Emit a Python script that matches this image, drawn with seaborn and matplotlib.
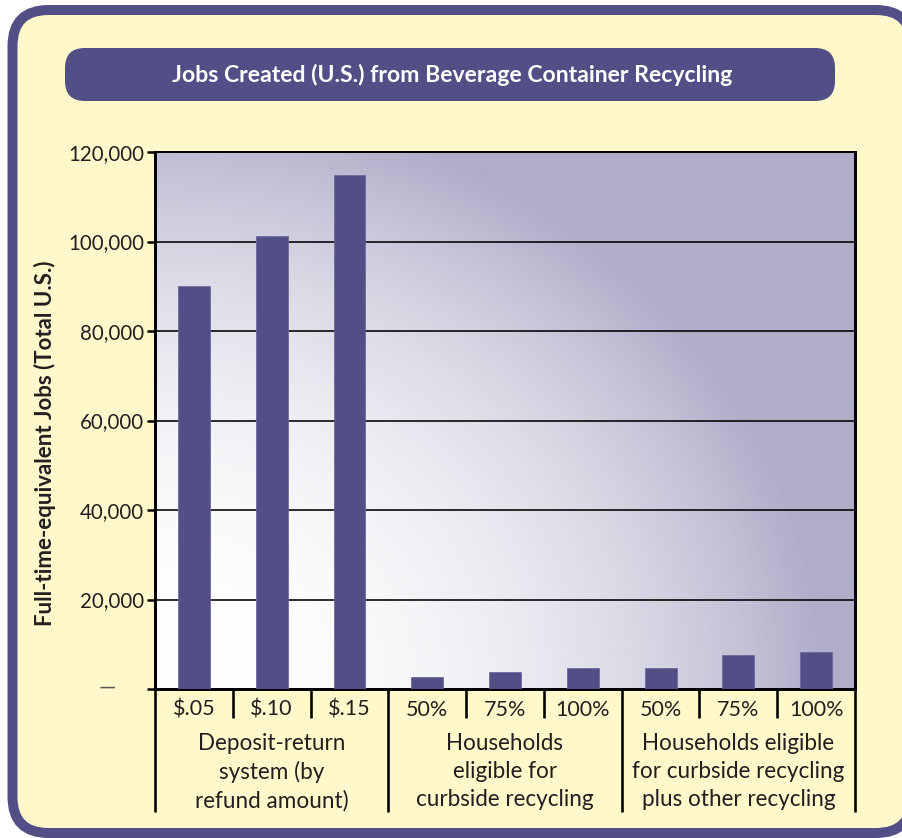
import numpy as np
import pandas as pd
import matplotlib
matplotlib.use("Agg")
import matplotlib.pyplot as plt
import matplotlib.transforms as mtrans
from matplotlib.patches import FancyBboxPatch
import seaborn as sns

# ---- data ----
tick_labels = ["$.05", "$.10", "$.15", "50%", "75%", "100%", "50%", "75%", "100%"]
jobs = [90000, 101300, 114800, 2700, 3900, 4700, 4700, 7500, 8300]
groups = ["Deposit-return\nsystem (by\nrefund amount)",
          "Households\neligible for\ncurbside recycling",
          "Households eligible\nfor curbside recycling\nplus other recycling"]
group_sizes = [3, 3, 3]
y_ticks = [20000, 40000, 60000, 80000, 100000, 120000]
y_tick_labels = ["20,000", "40,000", "60,000", "80,000", "100,000", "120,000"]
title = "Jobs Created (U.S.) from Beverage Container Recycling"
ylabel = "Full-time-equivalent Jobs (Total U.S.)"

PURPLE = "#524F87"
CREAM = "#FEF8CA"
LAV = np.array([175, 173, 200]) / 255.0
TXT = "#231F20"

sns.set_theme(style="white")
plt.rcParams["font.family"] = ["Lato", "DejaVu Sans"]

W, H = 902, 838
DPI = 72
fig = plt.figure(figsize=(W / DPI, H / DPI), dpi=DPI)
fig.patch.set_facecolor("white")

def fx(px):
    return px / W

def fy(py):
    return 1 - py / H

# outer frame
frame = FancyBboxPatch((fx(12.5), fy(833)), fx(912) - fx(12.5), fy(10) - fy(833),
                       boxstyle="round,pad=0,rounding_size=0.04",
                       transform=fig.transFigure, facecolor=CREAM,
                       edgecolor=PURPLE, linewidth=10, zorder=-5,
                       mutation_aspect=W / H)
fig.patches.append(frame)

# title box
tbox = FancyBboxPatch((fx(65), fy(101)), fx(835) - fx(65), fy(48) - fy(101),
                      boxstyle="round,pad=0,rounding_size=0.022",
                      transform=fig.transFigure, facecolor=PURPLE,
                      edgecolor="none", zorder=-4, mutation_aspect=W / H)
fig.patches.append(tbox)
fig.text(fx(452), fy(75), title, color="white", fontsize=23, fontweight="bold",
         ha="center", va="center", zorder=2)

# axes
ax_l, ax_r, ax_t, ax_b = 155, 855, 152, 689
ax = fig.add_axes([fx(ax_l), fy(ax_b), fx(ax_r) - fx(ax_l), fy(ax_t) - fy(ax_b)])
ax.set_zorder(1)

# gradient background (elliptical from bottom-left)
pw, ph = ax_r - ax_l, ax_b - ax_t
gx, gy = np.meshgrid(np.linspace(0, pw, 350), np.linspace(0, ph, 270))
d = np.sqrt((gx / 670.0) ** 2 + (gy / 590.0) ** 2)
t = np.clip(d, 0, 1) ** 2.3
img = (1 - t)[..., None] * np.array([1.0, 1.0, 1.0]) + t[..., None] * LAV
ax.imshow(img, extent=[0, 1, 0, 1], transform=ax.transAxes, origin="lower",
          aspect="auto", zorder=0, interpolation="bilinear")

df = pd.DataFrame({"pos": list(range(len(jobs))), "jobs": jobs})
sns.barplot(data=df, x="pos", y="jobs", color=PURPLE, saturation=1, width=0.41,
            edgecolor="#6C689C", linewidth=0.8, ax=ax, zorder=3)

ax.set_xlim(-0.5, len(jobs) - 0.5)
ax.set_ylim(0, 120000)
ax.set_yticks([0] + y_ticks)
ax.set_yticklabels([""] + y_tick_labels)
ax.set_xticks(range(len(jobs)))
ax.set_xticklabels(tick_labels)
ax.set_xlabel("")
ax.set_ylabel("")
ax.tick_params(axis="y", which="both", left=True, length=8, width=2.5,
               color="black", labelsize=20.5, labelcolor=TXT, pad=3)
ax.tick_params(axis="x", length=0, labelsize=21.5, labelcolor=TXT, pad=11)
for yv in y_ticks:
    ax.axhline(yv, color="black", lw=1.6, zorder=1)
for s in ["left", "right", "bottom", "top"]:
    ax.spines[s].set_visible(True)
    ax.spines[s].set_color("black")
ax.spines["left"].set_linewidth(3)
ax.spines["right"].set_linewidth(3)
ax.spines["bottom"].set_linewidth(3)
ax.spines["top"].set_linewidth(2)

# zero label dash
ax.annotate("—", xy=(0, 0), xycoords=(ax.transAxes, ax.transData),
            xytext=(-48, 1), textcoords="offset points", ha="center", va="center",
            fontsize=22, color="#555555", annotation_clip=False)

# separators under axis
blend = mtrans.blended_transform_factory(ax.transData, ax.transAxes)
short_len = (718 - ax_b) / ph
long_len = (812 - ax_b) / ph
group_edges = set(np.cumsum([0] + group_sizes))
for i in range(len(jobs) + 1):
    ln = long_len if i in group_edges else short_len
    ax.plot([i - 0.5, i - 0.5], [0, -ln], transform=blend, color="black",
            lw=2.6, clip_on=False, solid_capstyle="butt", zorder=5)

# group labels
start = 0
for g, n in zip(groups, group_sizes):
    c = start + (n - 1) / 2
    ax.annotate(g, xy=(c, 0), xycoords=blend, xytext=(0, -(733 - ax_b)),
                textcoords="offset points", ha="center", va="top",
                fontsize=22.5, color=TXT, linespacing=1.4,
                annotation_clip=False)
    start += n

fig.text(fx(45), fy(443), ylabel, rotation=90, fontsize=22.3, fontweight="bold",
         color=TXT, ha="center", va="center")

fig.savefig("out.png", dpi=DPI, facecolor=fig.get_facecolor())
